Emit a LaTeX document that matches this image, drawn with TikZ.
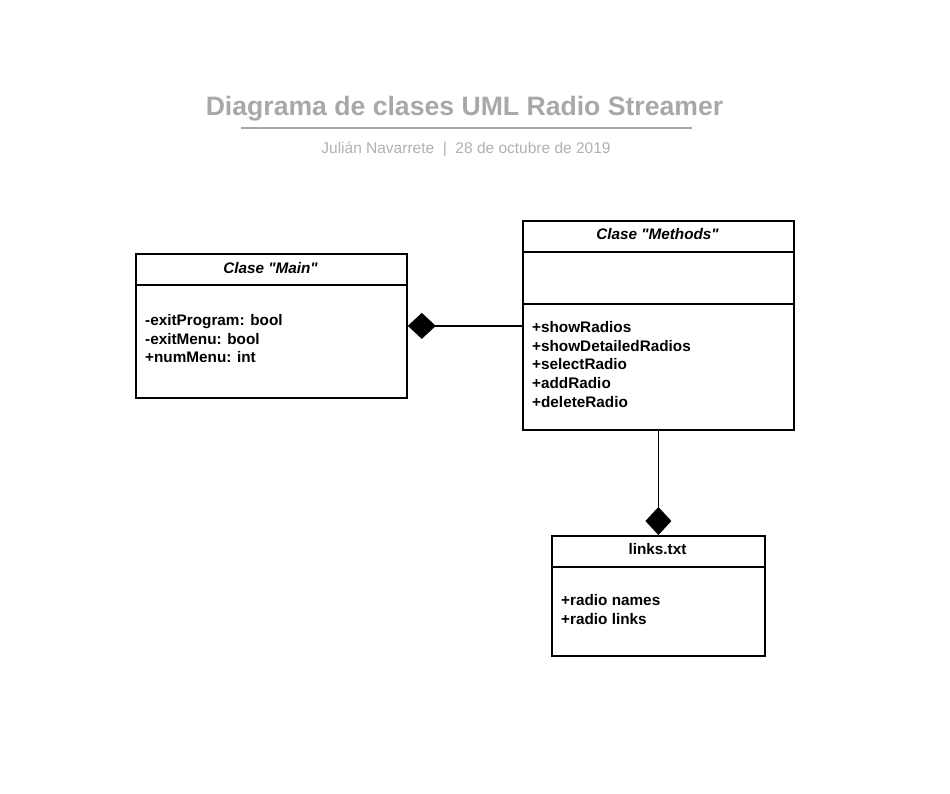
\documentclass[tikz,border=0pt]{standalone}
\usepackage{fontspec}
\setmainfont{Liberation Sans}[Ligatures=TeXOff]
\usetikzlibrary{arrows.meta,positioning}
\definecolor{titel}{RGB}{168,168,168}
\definecolor{untertitel}{RGB}{176,176,176}

\tikzset{
  klasse/.style={draw=black, line width=1.8pt, rectangle, inner sep=0pt, anchor=north west},
  kopf/.style={font=\fontsize{15.3}{18.7}\selectfont\bfseries\itshape, anchor=base, inner sep=0pt},
  eintrag/.style={font=\fontsize{15.3}{18.7}\selectfont\bfseries, align=left, anchor=base west, inner sep=0pt},
  teil/.style={line width=1.2pt},
  komp/.style={line width=1.8pt, -{Diamond[length=28pt,width=26pt]}},
}

\begin{document}
\begin{tikzpicture}[x=1pt, y=-1pt]
    \useasboundingbox (0,0) rectangle (950,794);

    % Titel
    \node[font=\fontsize{26.6}{30}\selectfont\bfseries, text=titel, anchor=base, inner sep=0pt] (titel) at (464.5,115.5) {Diagrama de clases UML Radio Streamer};
    \draw[titel, line width=1.6pt] (241,128) -- (692,128);
    \node[font=\fontsize{15.5}{18}\selectfont, text=untertitel, anchor=base, inner sep=0pt] (autor) at (466,153.5) {Julián Navarrete\ \ |\ \ 28 de octubre de 2019};

    % Clase Main (Textanker = letzte Zeile)
    \node[klasse, minimum width=271pt, minimum height=144pt] (main) at (135,253) {};
    \draw[teil] ([yshift=-32pt]main.north west) -- ([yshift=-32pt]main.north east);
    \node[kopf] (mainKopf) at (270.5,273) {Clase "Main"};
    \node[eintrag] (mainAttr) at (145,362.9) {-exitProgram: bool\\-exitMenu: bool\\+numMenu: int};

    % Clase Methods
    \node[klasse, minimum width=271pt, minimum height=209pt] (methods) at (522,220) {};
    \draw[teil] ([yshift=-32pt]methods.north west) -- ([yshift=-32pt]methods.north east);
    \draw[teil] ([yshift=-84pt]methods.north west) -- ([yshift=-84pt]methods.north east);
    \node[kopf] (methodsKopf) at (657.5,240) {Clase "Methods"};
    \node[eintrag] (methodsOps) at (532,407.3) {+showRadios\\+showDetailedRadios\\+selectRadio\\+addRadio\\+deleteRadio};

    % links.txt
    \node[klasse, minimum width=213pt, minimum height=120pt] (links) at (551,535) {};
    \draw[teil] ([yshift=-32pt]links.north west) -- ([yshift=-32pt]links.north east);
    \node[kopf, font=\fontsize{15.3}{18.7}\selectfont\bfseries] (linksKopf) at (657.5,554.5) {links.txt};
    \node[eintrag] (linksAttr) at (561,624.2) {+radio names\\+radio links};

    % Kompositionen
    \draw[komp] (main.east -| methods.west) -- (main.east);
    \draw[komp] (methods.south) -- (links.north);

\end{tikzpicture}
\end{document}
